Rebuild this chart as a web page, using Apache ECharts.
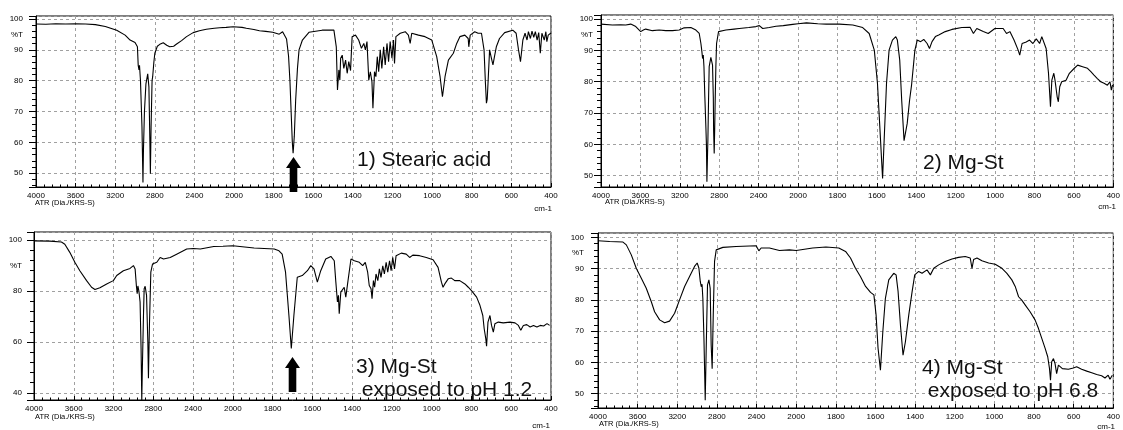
<!DOCTYPE html>
<html><head><meta charset="utf-8">
<script src="https://cdn.jsdelivr.net/npm/echarts@6/dist/echarts.min.js"></script>
<style>html,body{margin:0;padding:0;background:#fff}#c{width:1123px;height:430px}</style>
</head><body><div id="c"></div>
<script>
// x tick labels (wavenumber, cm-1) — scale changes at 2000 cm-1
const xTickLabels = ['4000','3600','3200','2800','2400','2000','1800','1600','1400','1200','1000','800','600','400'];

// 1) Stearic acid  [wavenumber, %T]
const stearicAcid = [[4000,98.4],[3900,98.3],[3800,98.5],[3700,98.4],[3600,98.5],[3500,98.4],[3400,98.2],[3300,97.6],[3185,96.4],[3100,94.8],[3050,93.2],[3000,92.4],[2976,91],[2968,85],[2960,83.5],[2955,85],[2945,80],[2930,65],[2920,47],[2915,57.5],[2905,70],[2890,79],[2872,82.2],[2860,78],[2850,60],[2845,49.8],[2838,65],[2828,80],[2822,81.3],[2810,86],[2800,88.9],[2775,91.2],[2750,91.8],[2715,92.3],[2680,91.5],[2650,91],[2610,91.2],[2580,91.9],[2530,93],[2480,94.3],[2413,95.6],[2350,96.2],[2280,96.7],[2200,97],[2145,97.2],[2080,97.3],[2010,97.5],[1960,97.3],[1938,97],[1900,96.6],[1872,96.2],[1840,96],[1805,95.7],[1772,95.1],[1755,95.9],[1745,95.6],[1735,93.5],[1725,88],[1718,80],[1712,70],[1706,60],[1702,56.5],[1696,62],[1689,73.8],[1680,84],[1672,90],[1655,93.2],[1622,95.7],[1555,96.4],[1496,96.4],[1484,91],[1478,77],[1471,83.5],[1466,80.2],[1462,87.3],[1454,88.3],[1446,84],[1437,86.7],[1429,82.4],[1421,86.2],[1412,83.3],[1404,94.3],[1387,94.8],[1371,93.2],[1357,90.5],[1345,92.1],[1337,90],[1329,92.7],[1320,80.2],[1312,82.9],[1304,79.7],[1299,71.1],[1291,82.9],[1284,81.3],[1277,87.8],[1270,82.9],[1262,90],[1254,84],[1245,91],[1237,85.1],[1228,92.1],[1220,86.2],[1212,92.7],[1203,87.3],[1195,93.2],[1190,85.6],[1183,94.3],[1161,95.4],[1136,95.9],[1120,94.8],[1111,92.1],[1103,95.4],[1069,94.8],[1036,94.3],[1002,93.2],[977,87.8],[960,81.3],[948,74.8],[935,81.3],[918,86.7],[910,86.2],[893,88.9],[876,92.1],[860,94.3],[835,94.8],[818,93.7],[815,91],[808,94.8],[785,95.9],[768,95.4],[751,95.4],[738,90],[731,79.2],[726,72.7],[722,74],[718,79.2],[710,90],[701,87.3],[693,85.1],[685,88],[676,91],[660,93.7],[634,95.6],[593,96.4],[576,95.4],[564,90],[554,86.2],[542,93.2],[531,95.4],[521,93.2],[514,95.9],[504,93.7],[496,96.1],[487,94.1],[479,95.9],[470,93.2],[462,95.6],[454,88.9],[446,95.4],[434,93.2],[426,95.9],[421,92.7],[414,94.8],[400,95.5]];

// 2) Mg-St
const mgSt = [[4000,98.4],[3885,98.1],[3800,98.2],[3749,98.1],[3698,98.4],[3647,97.6],[3597,96],[3570,96.5],[3546,96.8],[3478,96.3],[3410,96.5],[3342,96.3],[3275,96.3],[3207,96.5],[3156,97.2],[3088,97.3],[3037,96.5],[3003,95.4],[2986,92.2],[2976,89.6],[2969,87.4],[2962,88.5],[2955,84.8],[2946,75.2],[2935,65.1],[2930,60],[2925,48.1],[2918,58],[2915,61.4],[2908,75],[2902,84.8],[2885,87.8],[2868,85.3],[2860,75],[2857,64.6],[2851,57.1],[2846,65],[2841,74.1],[2834,85],[2827,92.2],[2807,96],[2732,96.5],[2650,96.8],[2597,97],[2500,97.3],[2427,97.6],[2393,97.9],[2359,97],[2292,97.3],[2224,97.7],[2150,97.9],[2054,98.3],[2000,98.5],[1957,98.8],[1900,98.5],[1857,98.4],[1790,98.4],[1722,98.1],[1672,97.3],[1639,95.4],[1613,90.1],[1597,79.5],[1585,65.6],[1571,49.1],[1563,61.4],[1551,79.5],[1538,90.1],[1521,93.3],[1504,94.4],[1496,93.3],[1484,86.9],[1474,74.1],[1462,61.2],[1446,66.7],[1434,74.1],[1424,78.9],[1417,78.4],[1407,90.1],[1395,93.3],[1378,92.8],[1362,93.5],[1345,92.2],[1333,90.6],[1320,92.8],[1303,94.4],[1286,94.9],[1253,96],[1219,96.7],[1169,97.3],[1127,97.4],[1110,95.4],[1093,97],[1060,96],[1035,95.4],[1001,97],[959,97],[942,95.4],[925,96],[904,93.3],[883,90.1],[875,88.5],[863,92.2],[842,92.7],[825,93.3],[808,92.2],[791,93.7],[774,92.2],[763,94.4],[741,90.6],[729,82.7],[719,72],[712,80.5],[702,82.7],[696,80.5],[685,75.2],[679,73.6],[672,78.4],[662,80],[640,80.5],[623,82.7],[598,84.3],[581,85.3],[556,84.8],[531,84.3],[514,83.2],[498,82.1],[481,81],[464,80],[447,79.5],[430,78.9],[417,80],[410,77.3],[404,79]];

// 3) Mg-St exposed to pH 1.2
const mgStPH12 = [[4000,99.7],[3842,99.6],[3724,99.3],[3690,98.4],[3640,95.2],[3589,91.3],[3539,88],[3471,84.1],[3421,81.5],[3387,80.6],[3337,81.3],[3269,82.8],[3202,84.1],[3168,86.1],[3101,88],[3034,88.9],[3000,90],[2983,88.7],[2970,82],[2962,79],[2955,82],[2945,80],[2933,75.7],[2923,57.4],[2916,37.2],[2910,50],[2906,57.4],[2898,72],[2892,80.9],[2882,81.9],[2868,78.3],[2855,60],[2849,45.7],[2843,58],[2839,66.5],[2825,87.4],[2808,90.6],[2765,91.3],[2731,93.2],[2697,92.6],[2630,93.2],[2565,94.5],[2464,96.5],[2397,96.7],[2327,96.5],[2192,97.5],[2100,97.6],[2000,97.8],[1893,96.9],[1792,96.5],[1768,95.8],[1752,94.5],[1735,87.4],[1718,70.4],[1706,57.4],[1693,70.4],[1676,85.4],[1651,86.1],[1625,88],[1608,90],[1592,88.7],[1575,83.5],[1558,88],[1533,92.6],[1507,93.6],[1490,91.9],[1482,83.5],[1474,75.7],[1469,78.3],[1465,71.1],[1457,79.6],[1448,78.9],[1440,81.5],[1432,77.6],[1423,82.8],[1415,83.5],[1406,92.6],[1389,91.9],[1364,91.3],[1347,90],[1334,91.3],[1322,87.4],[1314,82.2],[1305,80.9],[1300,77],[1293,84.1],[1287,81.5],[1280,86.7],[1271,84.1],[1263,88.7],[1255,85.4],[1246,89.9],[1238,86.7],[1229,91.3],[1221,87.4],[1212,91.9],[1204,88],[1196,93.2],[1187,88.7],[1179,93.9],[1153,94.9],[1128,94.5],[1111,93.2],[1103,92.6],[1095,94.1],[1061,93.9],[1027,93.2],[993,92.3],[968,89.3],[951,83.5],[943,81.5],[934,82.8],[917,84.8],[901,85.1],[884,84.1],[859,84.1],[833,82.8],[816,81.5],[800,80.2],[774,77.6],[757,74.3],[743,70.4],[736,65.2],[728,61.3],[724,58.3],[717,67.8],[707,70.4],[699,66.5],[690,63.9],[682,67.2],[665,67.8],[640,67.5],[606,67.8],[581,67.5],[564,66.5],[552,64.6],[539,66.5],[522,66.8],[505,65.9],[488,66.5],[471,65.9],[454,66.5],[437,66.3],[420,67.2],[407,66.5]];

// 4) Mg-St exposed to pH 6.8
const mgStPH68 = [[4000,98.9],[3882,98.7],[3748,98.5],[3714,97.6],[3664,94.4],[3614,90.1],[3563,86.9],[3513,83.7],[3462,79.4],[3429,76.2],[3378,73.6],[3328,72.7],[3278,73.2],[3227,75.7],[3177,80],[3126,84.3],[3076,87.5],[3026,90.7],[2999,91.8],[2982,90.2],[2968,85.9],[2958,84.2],[2950,85],[2942,80.5],[2931,67.7],[2918,47.9],[2908,64.5],[2895,84.8],[2881,86.4],[2868,83.7],[2858,65.5],[2848,58],[2837,75.2],[2824,92.3],[2807,96],[2740,96.8],[2606,97.1],[2404,97.3],[2377,95.7],[2354,96.6],[2270,96.6],[2169,95.8],[2068,96],[2000,95.8],[1917,96.6],[1850,96.9],[1785,96.6],[1751,95.5],[1726,93.4],[1701,90.1],[1676,87.5],[1650,84.3],[1625,82.4],[1608,81.6],[1597,75.2],[1587,64.5],[1575,57.5],[1563,69.8],[1550,80.5],[1533,86.4],[1508,88.5],[1496,88],[1486,82.7],[1474,71.9],[1461,62.3],[1449,66.6],[1432,75.2],[1415,82.7],[1402,88],[1382,89.1],[1365,88.5],[1340,89.6],[1323,88],[1306,90.1],[1281,91.2],[1248,92.3],[1214,93.1],[1181,93.6],[1147,93.9],[1122,93.4],[1113,90.1],[1105,92.9],[1088,93.4],[1063,92.5],[1029,91.8],[996,91.4],[962,90.1],[937,88.5],[912,86.4],[895,84.3],[878,81],[862,79.9],[845,78.4],[820,76.2],[795,73.6],[778,70.9],[761,67.7],[744,64.5],[731,61.8],[722,58],[717,54.3],[711,60.2],[702,61.2],[694,59.6],[686,56.4],[677,59.1],[669,59.6],[657,58],[627,57.8],[602,58.2],[585,58.6],[560,57.8],[534,57.2],[509,56.7],[484,56.1],[459,55.7],[442,55],[426,55.9],[417,54.6],[405,55.9]];

const spectra = [stearicAcid, mgSt, mgStPH12, mgStPH68];
const panelTitles = [['1) Stearic acid'], ['2) Mg-St'], ['3) Mg-St', ' exposed to pH 1.2'], ['4) Mg-St', ' exposed to pH 6.8']];
const yRanges = [[45.5, 101], [46.4, 101.3], [37.2, 103.2], [45.4, 101.4]];
const ySplitNumber = [5, 5, 3, 5];
const pctTValue = [95, 95, 90, 95];
const arrowPeak = 1700; // C=O band marked in panels 1 and 3

// FT-IR style axis: 4000-2000 at 400 per division, 2000-400 at 200 per division
function toAxis(w) { return w >= 2000 ? (4000 - w) / 400 : 5 + (2000 - w) / 200; }

const grids = [
  {left: 36, top: 16, width: 515, height: 171},
  {left: 601, top: 15, width: 515, height: 172},
  {left: 34, top: 232, width: 517, height: 168},
  {left: 598, top: 233, width: 517, height: 175}
];
const yLabelMargin = [13, 8, 12, 14];
const FONT = '"Liberation Sans", Arial, sans-serif';

const chart = echarts.init(document.getElementById('c'), null, {renderer: 'canvas'});

const option = {
  animation: false,
  backgroundColor: '#fff',
  grid: grids.map(g => Object.assign({show: true, borderColor: '#000', borderWidth: 1, backgroundColor: 'transparent'}, g)),
  xAxis: grids.map((g, i) => ({
    gridIndex: i, type: 'value', min: 0, max: 13, interval: 1,
    axisLine: {show: true, onZero: false, lineStyle: {color: '#000', width: 1}},
    axisTick: {show: true, inside: true, length: 4, lineStyle: {color: '#000'}},
    minorTick: {show: true, splitNumber: 5, length: 2.5, lineStyle: {color: '#000'}},
    splitLine: {show: true, lineStyle: {color: '#a0a0a0', width: 1, type: [3, 3]}},
    axisLabel: {formatter: v => xTickLabels[Math.round(v)] || '', fontSize: 8, fontFamily: FONT, color: '#000', margin: 5}
  })),
  yAxis: grids.map((g, i) => ({
    gridIndex: i, type: 'value', min: yRanges[i][0], max: yRanges[i][1], splitNumber: ySplitNumber[i],
    axisLine: {show: true, onZero: false, lineStyle: {color: '#000', width: 1}},
    axisTick: {show: true, length: 7, lineStyle: {color: '#000'}},
    minorTick: {show: true, splitNumber: 5, length: 4, lineStyle: {color: '#000'}},
    splitLine: {show: true, lineStyle: {color: '#a0a0a0', width: 1, type: [3, 3]}},
    axisLabel: {showMinLabel: false, showMaxLabel: false, fontSize: 8, fontFamily: FONT, color: '#000', margin: yLabelMargin[i],
      formatter: v => (Math.abs(v - Math.round(v / 10) * 10) < 1e-6 ? String(Math.round(v)) : '')}
  })),
  series: spectra.map((s, i) => ({
    type: 'line', xAxisIndex: i, yAxisIndex: i, silent: true,
    data: s.map(p => [toAxis(p[0]), p[1]]),
    showSymbol: false, symbol: 'none',
    lineStyle: {color: '#000', width: 1.1}
  }))
};
chart.setOption(option);

// Annotations (texts, arrows, axis captions)
const graphics = [];
const titlePos = [[357, 160], [923, 163], [356, 367], [922, 368]];
panelTitles.forEach((lines, i) => {
  lines.forEach((t, j) => {
    graphics.push({type: 'text', x: titlePos[i][0], y: titlePos[i][1] + j * 23.5, silent: true,
      style: {text: t, fontSize: 21, fontFamily: FONT, fill: '#111', verticalAlign: 'middle', align: 'left'}});
  });
});
const atrPos = [[35, 203], [605, 202], [35, 417], [599, 424]];
const cmPos = [[552, 209], [1116, 207], [550, 426], [1115, 427]];
for (let i = 0; i < 4; i++) {
  graphics.push({type: 'text', x: atrPos[i][0], y: atrPos[i][1], silent: true,
    style: {text: 'ATR (Dia./KRS-S)', fontSize: 7.5, fontFamily: FONT, fill: '#000', verticalAlign: 'middle', align: 'left'}});
  graphics.push({type: 'text', x: cmPos[i][0], y: cmPos[i][1], silent: true,
    style: {text: 'cm-1', fontSize: 8, fontFamily: FONT, fill: '#000', verticalAlign: 'middle', align: 'right'}});
  const py = chart.convertToPixel({yAxisIndex: i}, pctTValue[i]);
  graphics.push({type: 'text', x: grids[i].left - yLabelMargin[i], y: py, silent: true,
    style: {text: '%T', fontSize: 8, fontFamily: FONT, fill: '#000', verticalAlign: 'middle', align: 'right'}});
}
// arrows under the 1700 cm-1 band in panels 1 and 3
const arrows = [[0, 157, 168, 192], [2, 357, 368, 392]];
arrows.forEach(([gi, top, base, bottom]) => {
  const cx = chart.convertToPixel({xAxisIndex: gi}, toAxis(arrowPeak));
  const hw = 7.5, sw = 3.8;
  graphics.push({type: 'polygon', silent: true, z: 100,
    shape: {points: [[cx, top], [cx + hw, base], [cx + sw, base], [cx + sw, bottom], [cx - sw, bottom], [cx - sw, base], [cx - hw, base]]},
    style: {fill: '#000'}});
});
chart.setOption({graphic: graphics});
</script>
</body></html>
